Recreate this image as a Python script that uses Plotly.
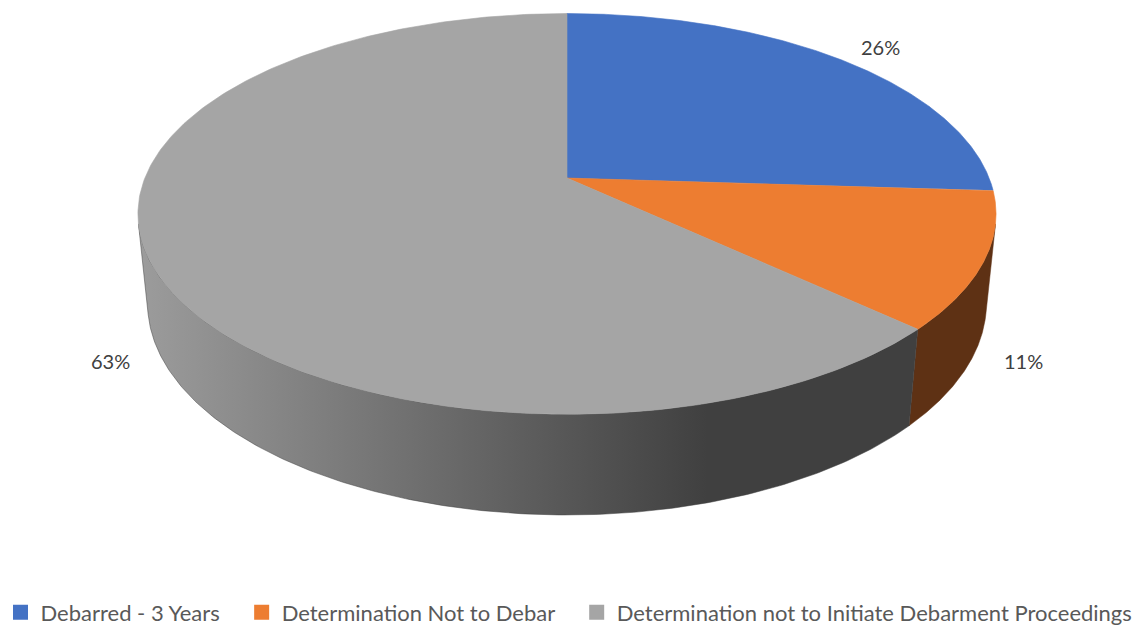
import numpy as np
import plotly.graph_objects as go

# ---- data ----
categories = [
    "Debarred - 3 Years",
    "Determination Not to Debar",
    "Determination not to Initiate Debarment Proceedings",
]
shares = [26, 11, 63]
top_colors = ["#4472C4", "#ED7D31", "#A5A5A5"]
wall_colors = ["#2A4780", "#5E3114", "#404040"]

# ---- 3-D pie geometry (unit-radius disc seen in perspective) ----
W, H = 1138, 626
CX, CY = 567, 178          # screen position of the pie centre
ELEV = np.radians(27.35)   # camera elevation above the disc plane
DIST = 4.956               # camera distance in disc radii
FOCAL = 2092               # focal length in pixels
THICK = 0.2405             # disc thickness in disc radii
sin_e, cos_e = np.sin(ELEV), np.cos(ELEV)


def project(theta_deg, r, h):
    th = np.radians(theta_deg)
    x = r * np.sin(th)
    w = r * np.cos(th)
    z = DIST + w * cos_e - h * sin_e
    yc = h * cos_e + w * sin_e
    return CX + FOCAL * x / z, CY - FOCAL * yc / z


total = float(sum(shares))
bounds = np.concatenate([[0.0], np.cumsum(shares) / total * 360.0])

# outer wall faces the camera where cos(theta) < -1/(DIST*cos_e)
vis_lo = np.degrees(np.arccos(-1.0 / (DIST * cos_e)))
vis_hi = 360.0 - vis_lo

fig = go.Figure()

# side walls
for i in range(len(shares)):
    a = max(bounds[i], vis_lo)
    b = min(bounds[i + 1], vis_hi)
    if b <= a:
        continue
    th = np.linspace(a, b, 200)
    xt, yt = project(th, 1.0, 0.0)
    xb, yb = project(th[::-1], 1.0, -THICK)
    xs = np.concatenate([xt, xb, xt[:1]])
    ys = np.concatenate([yt, yb, yt[:1]])
    kw = dict(fillcolor=wall_colors[i])
    if i == 2:
        kw["fillgradient"] = dict(
            type="horizontal",
            colorscale=[[0.0, "#9C9C9C"], [0.73, "#404040"], [1.0, "#404040"]],
        )
    fig.add_trace(go.Scatter(
        x=xs, y=ys, mode="lines", fill="toself",
        line=dict(width=0.5, color=wall_colors[i]),
        hoverinfo="skip", showlegend=False, **kw,
    ))

# top faces
for i in range(len(shares)):
    th = np.linspace(bounds[i], bounds[i + 1], 300)
    xa, ya = project(th, 1.0, 0.0)
    xs = np.concatenate([[CX], xa, [CX]])
    ys = np.concatenate([[CY], ya, [CY]])
    fig.add_trace(go.Scatter(
        x=xs, y=ys, mode="lines", fill="toself",
        fillcolor=top_colors[i], line=dict(width=0.6, color=top_colors[i]),
        hoverinfo="skip", showlegend=False,
    ))

# data labels, outside the rim (top rim for back slices, bottom rim for front)
for i, v in enumerate(shares):
    mid = (bounds[i] + bounds[i + 1]) / 2.0
    back = np.cos(np.radians(mid)) > 0
    h = 0.0 if back else -THICK
    lx, ly = project(mid, 1.12 if back else 1.08, h)
    lx += 15 * np.sin(np.radians(mid))
    fig.add_annotation(
        x=lx, y=ly, text=f"{round(100 * v / total)}%", showarrow=False,
        font=dict(size=20, color="#404040", family="Lato"),
        xanchor="center", yanchor="middle",
    )

# legend entries (non-breaking spaces widen the gap between entries)
pad = "\u00a0" * 3
for k, (name, col) in enumerate(zip(categories, top_colors)):
    label = name + (pad if k < len(categories) - 1 else "")
    fig.add_trace(go.Scatter(
        x=[None], y=[None], mode="markers", name=label,
        marker=dict(symbol="square", size=15, color=col),
    ))

fig.update_layout(
    width=W, height=H,
    margin=dict(l=0, r=0, t=0, b=0, autoexpand=False),
    paper_bgcolor="white", plot_bgcolor="white",
    xaxis=dict(range=[0, W], visible=False, fixedrange=True),
    yaxis=dict(range=[H, 0], visible=False, fixedrange=True),
    legend=dict(
        orientation="h", x=0.5, xanchor="center",
        yref="paper", y=-0.012, yanchor="bottom",
        font=dict(size=22, color="#595959", family="Lato"),
        itemwidth=30, tracegroupgap=0,
    ),
    showlegend=True,
)

fig.write_html("out.html")
